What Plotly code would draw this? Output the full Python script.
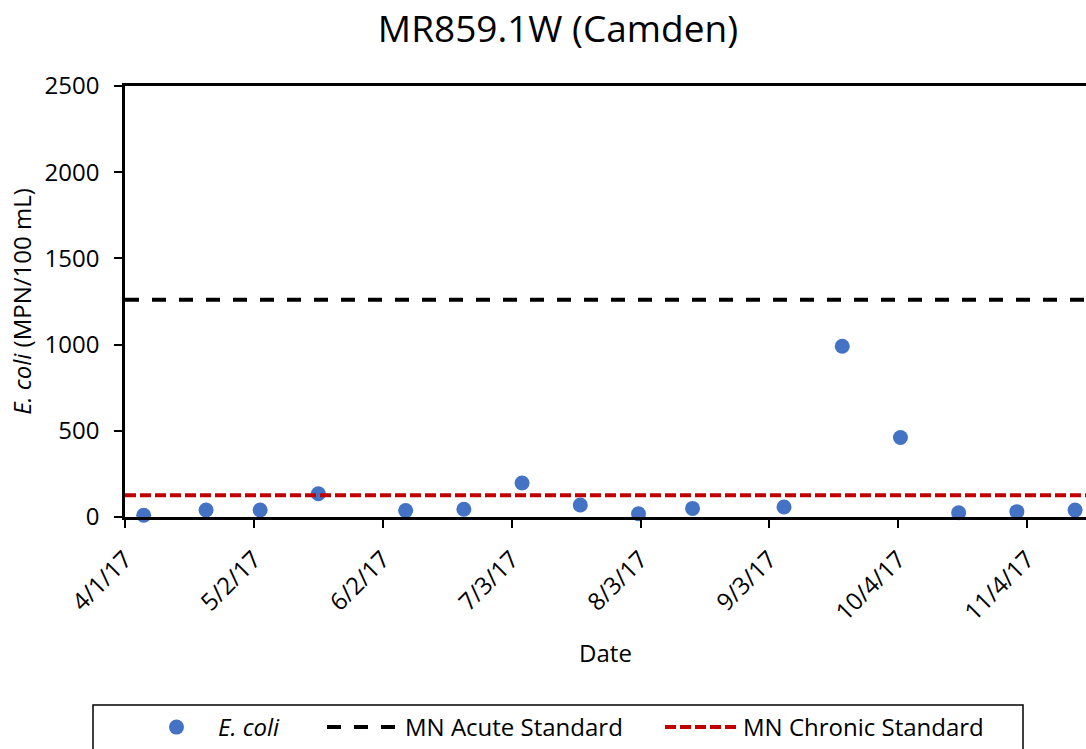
import plotly.graph_objects as go

# ---- data ----
sample_dates = ["2017-04-05 12:00", "2017-04-20 12:00", "2017-05-03 12:00", "2017-05-17 12:00",
                "2017-06-07 12:00", "2017-06-21 12:00", "2017-07-05 12:00", "2017-07-19 12:00",
                "2017-08-02 12:00", "2017-08-15 12:00", "2017-09-06 12:00", "2017-09-20 12:00",
                "2017-10-04 12:00", "2017-10-18 12:00", "2017-11-01 12:00", "2017-11-15 12:00"]
ecoli_values = [10, 41, 41, 135, 37, 45, 197, 70, 19, 50, 58, 990, 461, 25, 31, 40]

acute_standard = 1260
chronic_standard = 126

x_range = ["2017-04-01", "2017-11-18 03:00"]
tick_dates = ["2017-04-01", "2017-05-02", "2017-06-02", "2017-07-03",
              "2017-08-03", "2017-09-03", "2017-10-04", "2017-11-04"]
tick_labels = ["4/1/17", "5/2/17", "6/2/17", "7/3/17", "8/3/17", "9/3/17", "10/4/17", "11/4/17"]
y_ticks = [0, 500, 1000, 1500, 2000, 2500]

FONT = "Open Sans"
W, H = 1086, 749
L, R, T, B = 125, 0, 86, 232
pw, ph = W - L - R, H - T - B

def px_x(x):
    return (x - L) / pw

def px_y(y):
    return (H - B - y) / ph

fig = go.Figure()

fig.add_trace(go.Scatter(
    x=sample_dates, y=ecoli_values, mode="markers", name="<i>E. coli</i>",
    marker=dict(color="#4472C4", size=15),
    legendwidth=99, cliponaxis=False,
))
fig.add_trace(go.Scatter(
    x=x_range, y=[acute_standard, acute_standard], mode="lines", name="MN Acute Standard",
    line=dict(color="black", width=4, dash="14px,13px"),
    legendwidth=250,
))
fig.add_trace(go.Scatter(
    x=x_range, y=[chronic_standard, chronic_standard], mode="lines", name="MN Chronic Standard",
    line=dict(color="#C00000", width=4, dash="11px,4px"),
    legendwidth=245,
))

fig.update_layout(
    width=W, height=H,
    margin=dict(l=L, r=R, t=T, b=B, pad=0, autoexpand=False),
    paper_bgcolor="white", plot_bgcolor="white",
    font=dict(family=FONT, size=24, color="black"),
    title=dict(text="MR859.1W (Camden)", font=dict(family=FONT, size=37, color="black"),
               x=558 / W, xanchor="center", xref="container",
               y=1 - 29 / H, yanchor="middle", yref="container"),
    showlegend=True,
    legend=dict(orientation="h", x=px_x(135), xanchor="left",
                y=px_y(705), yanchor="top",
                borderwidth=0, bgcolor="rgba(0,0,0,0)",
                font=dict(family=FONT, size=24, color="black"),
                itemwidth=73, tracegroupgap=0),
    shapes=[dict(type="rect", xref="paper", yref="paper",
                 x0=px_x(93), x1=px_x(1023), y0=px_y(H + 20), y1=px_y(705),
                 line=dict(color="black", width=1.5), layer="above")],
)

fig.update_xaxes(
    type="date", range=x_range,
    tickvals=tick_dates, ticktext=tick_labels, tickangle=-45,
    ticks="outside", ticklen=8, tickwidth=2, tickcolor="black", ticklabelstandoff=8,
    showline=True, linecolor="black", linewidth=2.5, mirror=True,
    showgrid=False, zeroline=False,
    tickfont=dict(family=FONT, size=24, color="black"),
    title=dict(text="Date", font=dict(family=FONT, size=24, color="black"), standoff=20),
)
fig.update_yaxes(
    range=[0, 2500], tickvals=y_ticks,
    ticks="outside", ticklen=8, tickwidth=2, tickcolor="black", ticklabelstandoff=10,
    showline=True, linecolor="black", linewidth=2.5,
    showgrid=False, zeroline=False,
    tickfont=dict(family=FONT, size=24, color="black"),
    title=dict(text="<i>E. coli</i> (MPN/100 mL)", font=dict(family=FONT, size=24, color="black"), standoff=7),
)

# remove the browser's default page margin so the figure fills the window exactly
fig.write_html("out.html", config={"displayModeBar": False},
               post_script="document.body.style.margin='0';")
